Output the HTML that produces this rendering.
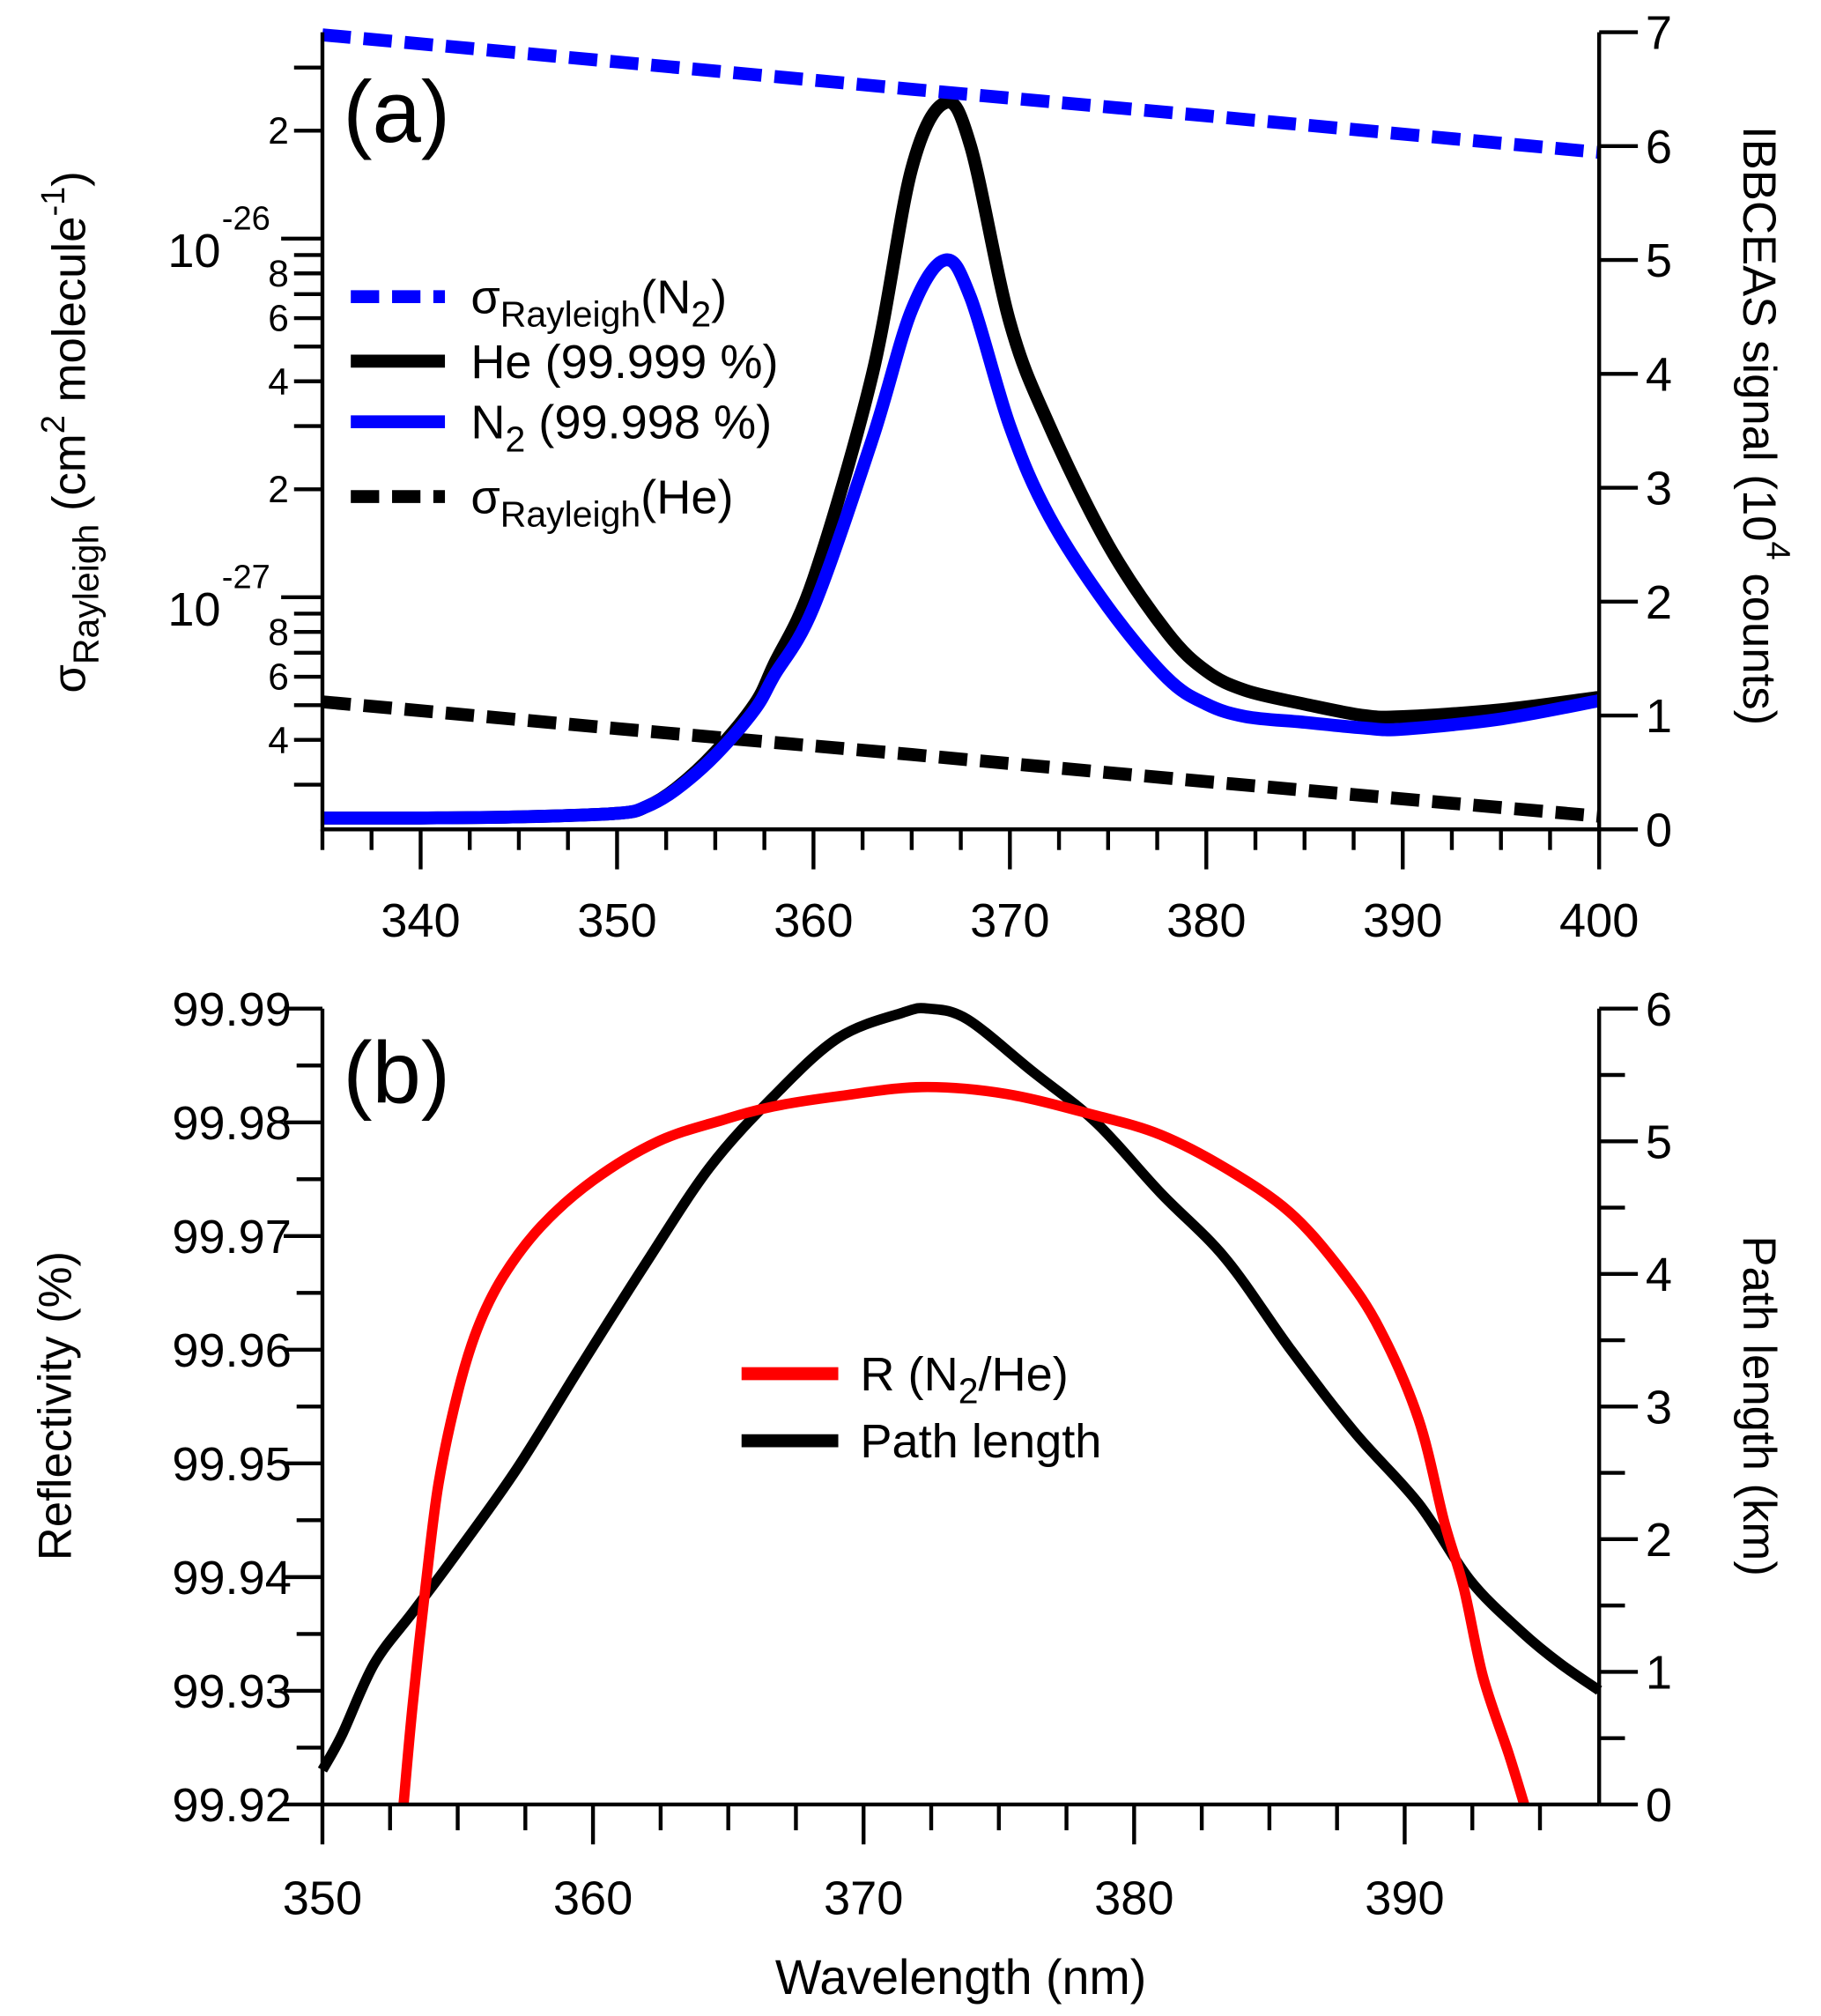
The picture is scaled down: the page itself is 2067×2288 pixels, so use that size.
<!DOCTYPE html>
<html><head><meta charset="utf-8"><style>
html,body{margin:0;padding:0;background:#fff}
svg{display:block}
text{font-family:"Liberation Sans",Arial,sans-serif;fill:#000}
</style></head><body>
<svg id="fig" width="2067" height="2288" viewBox="0 0 1412 1563" xmlns="http://www.w3.org/2000/svg">
<g id="pa"></g>
<g id="pb"></g>
</svg>
<script>
// ---------- Panel (a) data ----------
const rayWl = [335, 350, 365, 380, 400];
const rayN2 = [3.70e-26, 3.11e-26, 2.61e-26, 2.20e-26, 1.74e-26];
const rayHe = [5.11e-28, 4.30e-28, 3.64e-28, 3.06e-28, 2.45e-28];
const sigWl = [335, 340, 345, 350, 351.5, 353, 355, 357, 358, 360, 363, 365, 366.7, 368, 370, 372, 375, 378, 380, 382, 385, 388, 390, 395, 400];
const sigHe = [0.10, 0.10, 0.11, 0.14, 0.20, 0.36, 0.68, 1.10, 1.45, 2.20, 4.00, 5.80, 6.38, 6.00, 4.45, 3.55, 2.50, 1.73, 1.39, 1.22, 1.10, 1.00, 0.99, 1.05, 1.16];
const sigN2 = [0.10, 0.10, 0.11, 0.14, 0.20, 0.35, 0.65, 1.05, 1.35, 1.95, 3.43, 4.56, 5.00, 4.67, 3.54, 2.75, 1.95, 1.33, 1.10, 0.99, 0.94, 0.89, 0.88, 0.97, 1.13];
const xTicksA = [340, 350, 360, 370, 380, 390, 400];
const rTicksA = [0, 1, 2, 3, 4, 5, 6, 7];
// ---------- Panel (b) data ----------
const rWl = [353.0, 353.34, 353.81, 354.29, 355.0, 355.72, 356.67, 358.10, 360.01, 362.39, 364.78, 366.68, 369.07, 372.16, 375.26, 378.60, 380.98, 383.36, 385.75, 387.65, 389.08, 390.51, 391.47, 392.18, 392.90, 393.85, 394.42];
const rVal = [99.920, 99.9289, 99.9391, 99.9482, 99.9562, 99.9618, 99.9664, 99.9709, 99.9749, 99.9783, 99.9802, 99.9814, 99.9823, 99.9831, 99.9825, 99.9806, 99.9789, 99.9760, 99.9721, 99.9670, 99.9618, 99.9539, 99.9448, 99.9391, 99.9312, 99.9244, 99.920];
const pWl = [350.0, 350.71, 351.91, 353.34, 354.77, 357.15, 359.53, 361.92, 364.30, 366.68, 369.07, 371.45, 372.40, 373.83, 376.22, 378.60, 380.98, 383.36, 385.75, 388.13, 390.51, 392.42, 394.33, 395.76, 397.19];
const pVal = [0.26, 0.52, 1.06, 1.45, 1.84, 2.52, 3.30, 4.07, 4.80, 5.34, 5.78, 5.97, 6.00, 5.92, 5.53, 5.14, 4.61, 4.12, 3.44, 2.81, 2.27, 1.69, 1.30, 1.06, 0.86];
const xTicksB = [350, 360, 370, 380, 390];
const lTicksB = ["99.92", "99.93", "99.94", "99.95", "99.96", "99.97", "99.98", "99.99"];
const rTicksB = [0, 1, 2, 3, 4, 5, 6];

const NS = "http://www.w3.org/2000/svg";
function mk(parent, tag, attrs, txt) {
  const e = document.createElementNS(NS, tag);
  for (const k in attrs) e.setAttribute(k, attrs[k]);
  if (txt !== undefined) e.textContent = txt;
  parent.appendChild(e);
  return e;
}
function pathFrom(xs, ys, fx, fy) {
  return xs.map((x, i) => (i ? "L" : "M") + fx(x).toFixed(1) + "," + fy(ys[i]).toFixed(1)).join(" ");
}
function smoothFrom(xs, ys, fx, fy) {
  const P = xs.map((x, i) => [fx(x), fy(ys[i])]);
  let d = "M" + P[0][0].toFixed(1) + "," + P[0][1].toFixed(1);
  for (let i = 0; i < P.length - 1; i++) {
    const p0 = P[Math.max(0, i - 1)], p1 = P[i], p2 = P[i + 1], p3 = P[Math.min(P.length - 1, i + 2)];
    const c1 = [p1[0] + (p2[0] - p0[0]) / 6, p1[1] + (p2[1] - p0[1]) / 6];
    const c2 = [p2[0] - (p3[0] - p1[0]) / 6, p2[1] - (p3[1] - p1[1]) / 6];
    d += ` C${c1[0].toFixed(1)},${c1[1].toFixed(1)} ${c2[0].toFixed(1)},${c2[1].toFixed(1)} ${p2[0].toFixed(1)},${p2[1].toFixed(1)}`;
  }
  return d;
}

// ===== Panel a =====
const A = document.getElementById("pa");
const aL = 250, aR = 1240, aT = 25, aB = 643;
const ax = w => aL + (w - 335) / (400 - 335) * (aR - aL);
const ayR = v => aB - v * (aB - aT) / 7;
const ayL = v => 185 - (Math.log10(v) + 26) * 278;

let e;
e = mk(A, "path", {d: pathFrom(rayWl, rayHe, ax, ayL), fill: "none", stroke: "#000", "stroke-width": 10, "stroke-dasharray": "22 10"});


e = mk(A, "path", {d: smoothFrom(sigWl, sigHe, ax, ayR), fill: "none", stroke: "#000", "stroke-width": 10, "stroke-linejoin": "round"});


e = mk(A, "path", {d: smoothFrom(sigWl, sigN2, ax, ayR), fill: "none", stroke: "#0000ff", "stroke-width": 10, "stroke-linejoin": "round"});


e = mk(A, "path", {d: pathFrom(rayWl, rayN2, ax, ayL), fill: "none", stroke: "#0000ff", "stroke-width": 10, "stroke-dasharray": "22 10"});



e = mk(A, "path", {d: `M${aL},${aT} V${aB} H${aR} M${aR},${aT} V${aB}`, fill: "none", stroke: "#000", "stroke-width": 3});


for (let w = 335; w <= 400.01; w += 2.5) {
  const major = Math.abs(w % 10) < 0.01;
  mk(A, "line", {x1: ax(w), x2: ax(w), y1: aB, y2: aB + (major ? 31 : 16), stroke: "#000", "stroke-width": 3});
}
xTicksA.forEach(v => {
  e = mk(A, "text", {x: ax(v), y: 726, "font-size": 37, "text-anchor": "middle"}, v);
  
  
});
rTicksA.forEach(v => {
  mk(A, "line", {x1: aR, x2: aR + 30, y1: ayR(v), y2: ayR(v), stroke: "#000", "stroke-width": 3});
  e = mk(A, "text", {x: aR + 36, y: ayR(v) + 13, "font-size": 37}, v);
  
  
});
[-28, -27, -26].forEach(p => {
  for (let m = 1; m <= 9; m++) {
    const v = m * Math.pow(10, p);
    const y = ayL(v);
    if (y < aT - 1 || y > aB + 1) continue;
    mk(A, "line", {x1: aL, x2: aL - (m === 1 ? 32 : 22), y1: y, y2: y, stroke: "#000", "stroke-width": 3});
    if (m === 2 || m === 4 || m === 6 || m === 8) {
      e = mk(A, "text", {x: aL - 26, y: y + 10, "font-size": 29, "text-anchor": "end"}, m);
      
      
    }
  }
});
[["-26", 185], ["-27", 463]].forEach(([p, y]) => {
  e = mk(A, "text", {x: 130, y: y + 22, "font-size": 37}, "10");
  
  
  mk(A, "text", {x: 172, y: y - 7, "font-size": 26}, p);
});
e = mk(A, "text", {x: 266, y: 110, "font-size": 68}, "(a)");


e = mk(A, "text", {transform: "translate(66,335) rotate(-90)", "font-size": 36, "text-anchor": "middle"});
e.innerHTML = 'σ<tspan font-size="28" dy="10">Rayleigh</tspan><tspan dy="-10"> (cm</tspan><tspan font-size="26" dy="-16">2</tspan><tspan dy="16"> molecule</tspan><tspan font-size="26" dy="-16">-1</tspan><tspan dy="16">)</tspan>';


e = mk(A, "text", {transform: "translate(1352,330) rotate(90)", "font-size": 36, "text-anchor": "middle"});
e.innerHTML = 'IBBCEAS signal (10<tspan font-size="26" dy="-18">4</tspan><tspan dy="18"> counts)</tspan>';


const legA = [
  {y: 230, c: "#0000ff", dash: "22 10", html: 'σ<tspan font-size="28" dy="10">Rayleigh</tspan><tspan dy="-10">(N</tspan><tspan font-size="28" dy="10">2</tspan><tspan dy="-10">)</tspan>', n: "legend-rayleigh-n2"},
  {y: 280, c: "#000", dash: "", html: 'He (99.999 %)', n: "legend-he"},
  {y: 327, c: "#0000ff", dash: "", html: 'N<tspan font-size="28" dy="10">2</tspan><tspan dy="-10"> (99.998 %)</tspan>', n: "legend-n2"},
  {y: 385, c: "#000", dash: "22 10", html: 'σ<tspan font-size="28" dy="10">Rayleigh</tspan><tspan dy="-10">(He)</tspan>', n: "legend-rayleigh-he"}
];
legA.forEach(l => {
  const g = mk(A, "g", {});
  
  
  const ln = mk(g, "line", {x1: 272, x2: 345, y1: l.y, y2: l.y, stroke: l.c, "stroke-width": 10});
  if (l.dash) ln.setAttribute("stroke-dasharray", l.dash);
  const t = mk(g, "text", {x: 365, y: l.y + 13, "font-size": 37});
  t.innerHTML = l.html;
});

// ===== Panel b =====
const B = document.getElementById("pb");
const bL = 250, bR = 1240, bT = 782, bB = 1399;
const bx = w => bL + (w - 350) * 20.98;
const byL = v => bB - (v - 99.92) / 0.07 * (bB - bT);
const byR = v => bB - v / 6 * (bB - bT);

e = mk(B, "path", {d: smoothFrom(pWl, pVal, bx, byR), fill: "none", stroke: "#000", "stroke-width": 8, "stroke-linejoin": "round"});


e = mk(B, "path", {d: smoothFrom(rWl, rVal, bx, byL), fill: "none", stroke: "#ff0000", "stroke-width": 8, "stroke-linejoin": "round"});



e = mk(B, "path", {d: `M${bL},${bT} V${bB} H${bR} M${bR},${bT} V${bB}`, fill: "none", stroke: "#000", "stroke-width": 3});


for (let w = 350; bx(w) <= bR + 1; w += 2.5) {
  const major = Math.abs(w % 10) < 0.01;
  mk(B, "line", {x1: bx(w), x2: bx(w), y1: bB, y2: bB + (major ? 31 : 20), stroke: "#000", "stroke-width": 3});
}
xTicksB.forEach(v => {
  e = mk(B, "text", {x: bx(v), y: 1484, "font-size": 37, "text-anchor": "middle"}, v);
  
  
});
lTicksB.forEach((s, i) => {
  const y = byL(parseFloat(s));
  mk(B, "line", {x1: bL, x2: bL - 30, y1: y, y2: y, stroke: "#000", "stroke-width": 3});
  if (i < lTicksB.length - 1) {
    const ym = byL(parseFloat(s) + 0.005);
    mk(B, "line", {x1: bL, x2: bL - 20, y1: ym, y2: ym, stroke: "#000", "stroke-width": 3});
  }
  e = mk(B, "text", {x: 226, y: y + 13, "font-size": 37, "text-anchor": "end"}, s);
  
  
});
rTicksB.forEach((v, i) => {
  const y = byR(v);
  mk(B, "line", {x1: bR, x2: bR + 30, y1: y, y2: y, stroke: "#000", "stroke-width": 3});
  if (i < rTicksB.length - 1) {
    const ym = byR(v + 0.5);
    mk(B, "line", {x1: bR, x2: bR + 20, y1: ym, y2: ym, stroke: "#000", "stroke-width": 3});
  }
  e = mk(B, "text", {x: bR + 36, y: y + 13, "font-size": 37}, v);
  
  
});
e = mk(B, "text", {x: 266, y: 855, "font-size": 68}, "(b)");


e = mk(B, "text", {transform: "translate(55,1090) rotate(-90)", "font-size": 36, "text-anchor": "middle"}, "Reflectivity (%)");


e = mk(B, "text", {transform: "translate(1352,1090) rotate(90)", "font-size": 36, "text-anchor": "middle"}, "Path length (km)");


e = mk(B, "text", {x: 745, y: 1546, "font-size": 38, "text-anchor": "middle"}, "Wavelength (nm)");


const legB = [
  {y: 1065, c: "#ff0000", html: 'R (N<tspan font-size="28" dy="10">2</tspan><tspan dy="-10">/He)</tspan>', n: "legend-reflectivity"},
  {y: 1117, c: "#000", html: 'Path length', n: "legend-path-length"}
];
legB.forEach(l => {
  const g = mk(B, "g", {});
  
  
  mk(g, "line", {x1: 575, x2: 650, y1: l.y, y2: l.y, stroke: l.c, "stroke-width": 10});
  const t = mk(g, "text", {x: 667, y: l.y + 13, "font-size": 37});
  t.innerHTML = l.html;
});
</script>
</body></html>
